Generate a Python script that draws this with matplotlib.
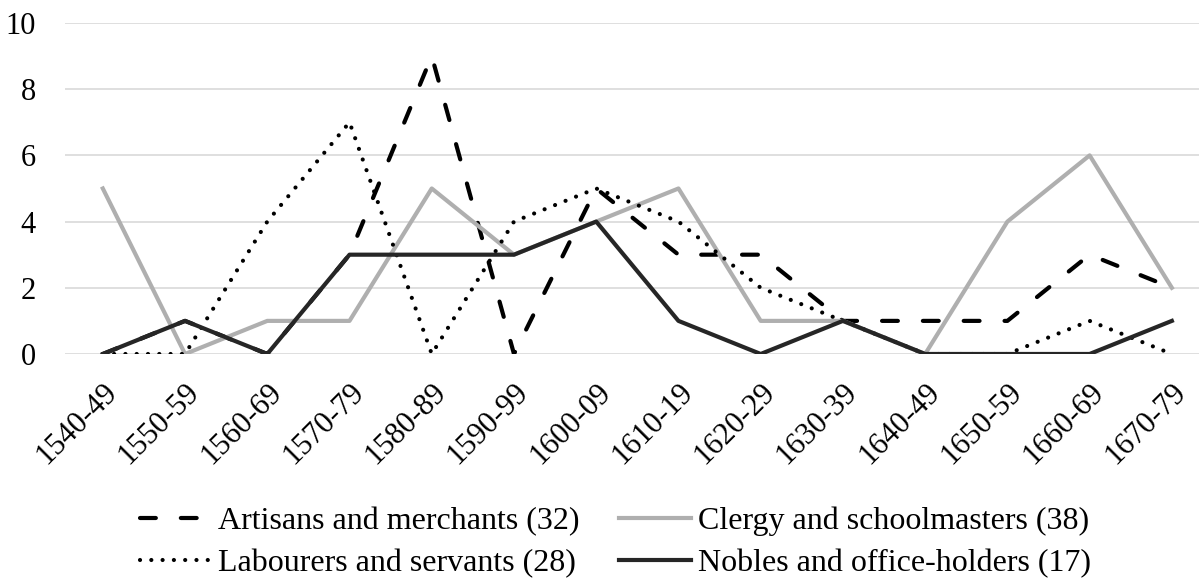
import matplotlib.pyplot as plt

plt.rcParams['font.family'] = ['Liberation Serif', 'DejaVu Serif']

decades = ["1540-49", "1550-59", "1560-69", "1570-79", "1580-89", "1590-99", "1600-09",
           "1610-19", "1620-29", "1630-39", "1640-49", "1650-59", "1660-69", "1670-79"]

artisans = [0, 1, 0, 3, 9, 0, 5, 3, 3, 1, 1, 1, 3, 2]
clergy = [5, 0, 1, 1, 5, 3, 4, 5, 1, 1, 0, 4, 6, 2]
labourers = [0, 0, 4, 7, 0, 4, 5, 4, 2, 1, 0, 0, 1, 0]
nobles = [0, 1, 0, 3, 3, 3, 4, 1, 0, 1, 0, 0, 0, 1]

fig = plt.figure(figsize=(11.99, 5.85), dpi=100)
ax = fig.add_axes([0.0542, 0.3949, 0.9458, 0.5658])

x = range(len(decades))
h_art, = ax.plot(x, artisans, color="black", lw=3, dashes=(3.8, 6), dash_capstyle="round",
                 label="Artisans and merchants (32)")
h_cle, = ax.plot(x, clergy, color="#afafaf", lw=3, label="Clergy and schoolmasters (38)")
h_lab, = ax.plot(x, labourers, color="black", lw=3, dashes=(0.01, 2.7), dash_capstyle="round",
                 label="Labourers and servants (28)")
h_nob, = ax.plot(x, nobles, color="#262626", lw=3, label="Nobles and office-holders (17)")

ax.set_ylim(0, 10)
ax.set_yticks(range(0, 11, 2))
ax.set_xlim(-0.46, 13.33)
ax.set_xticks(list(x))
ax.set_xticklabels(decades, rotation=45, ha="right", rotation_mode="anchor")
ax.tick_params(axis="both", length=0, labelsize=22)
ax.tick_params(axis="x", pad=17)
ax.tick_params(axis="y", pad=21)
ax.grid(axis="y", color="#d9d9d9", lw=1.2)
ax.set_axisbelow(True)
for s in ax.spines.values():
    s.set_visible(False)

# row order in the legend: artisans, clergy / labourers, nobles
fig.legend(handles=[h_art, h_lab, h_cle, h_nob], loc="center",
           bbox_to_anchor=(0.513, 0.073), ncol=2, frameon=False,
           fontsize=23, handlelength=2.25, columnspacing=1.25, handletextpad=0.2,
           labelspacing=0.4, borderpad=0)

fig.savefig("out.png", dpi=100)
